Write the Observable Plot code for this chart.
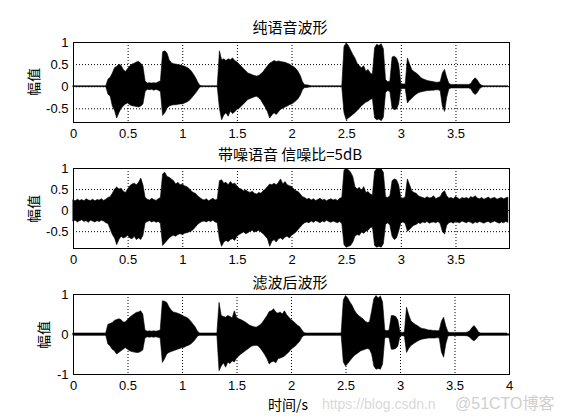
<!DOCTYPE html>
<html><head><meta charset="utf-8">
<script src="https://cdn.jsdelivr.net/npm/d3@7"></script>
<script src="https://cdn.jsdelivr.net/npm/@observablehq/plot@0.6"></script>
<style>
body{margin:0;background:#fff;}
#wrap{position:relative;width:561px;height:420px;overflow:hidden;background:#fff;}
#wrap svg{position:absolute;left:0;top:0;}
.lbl{position:absolute;transform:translate(-50%,-50%);white-space:nowrap;font-family:"Noto Sans CJK SC","Liberation Sans",sans-serif;color:#000;line-height:1;}
.rot{transform:translate(-50%,-50%) rotate(-90deg);}
.wm{position:absolute;white-space:nowrap;font-family:"Liberation Sans","Noto Sans CJK SC",sans-serif;color:#d9d9d9;line-height:1;}
</style></head><body><div id="wrap"></div>
<script>
// sample times (s)
const time = [
0,0.02,0.04,0.06,0.08,0.1,0.12,0.14,0.16,0.18,
0.2,0.22,0.24,0.26,0.28,0.3,0.32,0.34,0.36,0.38,
0.4,0.42,0.44,0.46,0.48,0.5,0.52,0.54,0.56,0.58,
0.6,0.62,0.64,0.66,0.68,0.7,0.72,0.74,0.76,0.78,
0.8,0.82,0.84,0.86,0.88,0.9,0.92,0.94,0.96,0.98,
1,1.02,1.04,1.06,1.08,1.1,1.12,1.14,1.16,1.18,
1.2,1.22,1.24,1.26,1.28,1.3,1.32,1.34,1.36,1.38,
1.4,1.42,1.44,1.46,1.48,1.5,1.52,1.54,1.56,1.58,
1.6,1.62,1.64,1.66,1.68,1.7,1.72,1.74,1.76,1.78,
1.8,1.82,1.84,1.86,1.88,1.9,1.92,1.94,1.96,1.98,
2,2.02,2.04,2.06,2.08,2.1,2.12,2.14,2.16,2.18,
2.2,2.22,2.24,2.26,2.28,2.3,2.32,2.34,2.36,2.38,
2.4,2.42,2.44,2.46,2.48,2.5,2.52,2.54,2.56,2.58,
2.6,2.62,2.64,2.66,2.68,2.7,2.72,2.74,2.76,2.78,
2.8,2.82,2.84,2.86,2.88,2.9,2.92,2.94,2.96,2.98,
3,3.02,3.04,3.06,3.08,3.1,3.12,3.14,3.16,3.18,
3.2,3.22,3.24,3.26,3.28,3.3,3.32,3.34,3.36,3.38,
3.4,3.42,3.44,3.46,3.48,3.5,3.52,3.54,3.56,3.58,
3.6,3.62,3.64,3.66,3.68,3.7,3.72,3.74,3.76,3.78,
3.8,3.82,3.84,3.86,3.88,3.9,3.92,3.94,3.96,3.98];

// clean speech envelope (upper / lower)
const cleanHi = [
0.01,0.01,0.01,0.01,0.01,0.01,0.01,0.01,0.01,0.01,
0.01,0.01,0.01,0.01,0.01,0.01,0.16,0.2,0.3,0.42,
0.45,0.5,0.47,0.38,0.33,0.4,0.46,0.5,0.52,0.55,
0.56,0.52,0.45,0.12,0.07,0.08,0.07,0.08,0.07,0.1,
0.12,0.78,0.8,0.75,0.6,0.53,0.51,0.5,0.49,0.48,
0.47,0.45,0.43,0.4,0.35,0.28,0.2,0.1,0.02,0.01,
0.01,0.01,0.01,0.01,0.01,0.01,0.01,0.8,0.6,0.62,
0.58,0.62,0.6,0.64,0.58,0.55,0.5,0.45,0.4,0.35,
0.3,0.28,0.26,0.24,0.23,0.24,0.28,0.33,0.4,0.46,
0.52,0.55,0.58,0.56,0.57,0.56,0.55,0.54,0.52,0.5,
0.47,0.44,0.4,0.33,0.24,0.1,0.03,0.03,0.02,0.01,
0.01,0.01,0.01,0.01,0.01,0.01,0.01,0.01,0.01,0.01,
0.01,0.01,0.01,0.01,0.9,0.98,0.92,0.82,0.72,0.64,
0.52,0.46,0.42,0.46,0.34,0.38,0.3,0.27,0.87,0.95,
0.92,0.96,0.85,0.15,0.1,0.12,0.66,0.68,0.64,0.5,
0.06,0.05,0.05,0.64,0.5,0.38,0.33,0.3,0.26,0.2,
0.17,0.15,0.13,0.12,0.11,0.1,0.09,0.09,0.1,0.3,
0.38,0.2,0.06,0.04,0.04,0.04,0.04,0.04,0.04,0.04,
0.04,0.04,0.06,0.14,0.19,0.14,0.06,0.02,0.01,0.01,
0.01,0.01,0.01,0.01,0.01,0.01,0.01,0.01,0.01,0.01];
const cleanLo = [
-0.01,-0.01,-0.01,-0.01,-0.01,-0.01,-0.01,-0.01,-0.01,-0.01,
-0.01,-0.01,-0.01,-0.01,-0.01,-0.01,-0.18,-0.22,-0.45,-0.55,
-0.72,-0.6,-0.5,-0.45,-0.4,-0.38,-0.42,-0.44,-0.45,-0.46,
-0.47,-0.45,-0.4,-0.12,-0.07,-0.08,-0.07,-0.09,-0.07,-0.09,
-0.12,-0.66,-0.6,-0.5,-0.45,-0.43,-0.42,-0.42,-0.41,-0.4,
-0.4,-0.38,-0.36,-0.33,-0.28,-0.22,-0.16,-0.09,-0.02,-0.01,
-0.01,-0.01,-0.01,-0.01,-0.01,-0.01,-0.01,-0.5,-0.76,-0.65,
-0.6,-0.68,-0.56,-0.62,-0.58,-0.52,-0.5,-0.45,-0.4,-0.35,
-0.3,-0.28,-0.26,-0.24,-0.23,-0.26,-0.32,-0.4,-0.48,-0.58,
-0.72,-0.65,-0.6,-0.64,-0.58,-0.52,-0.5,-0.47,-0.45,-0.42,
-0.4,-0.37,-0.33,-0.28,-0.2,-0.08,-0.03,-0.03,-0.02,-0.01,
-0.01,-0.01,-0.01,-0.01,-0.01,-0.01,-0.01,-0.01,-0.01,-0.01,
-0.01,-0.01,-0.01,-0.01,-0.6,-0.76,-0.72,-0.68,-0.64,-0.6,
-0.55,-0.5,-0.44,-0.4,-0.36,-0.34,-0.3,-0.28,-0.72,-0.76,
-0.74,-0.78,-0.7,-0.14,-0.1,-0.12,-0.5,-0.53,-0.52,-0.4,
-0.06,-0.05,-0.05,-0.38,-0.32,-0.27,-0.22,-0.18,-0.15,-0.13,
-0.12,-0.11,-0.1,-0.1,-0.09,-0.09,-0.08,-0.08,-0.1,-0.45,
-0.57,-0.25,-0.06,-0.04,-0.04,-0.04,-0.04,-0.04,-0.04,-0.04,
-0.04,-0.04,-0.06,-0.14,-0.19,-0.14,-0.06,-0.02,-0.01,-0.01,
-0.01,-0.01,-0.01,-0.01,-0.01,-0.01,-0.01,-0.01,-0.01,-0.01];

// noisy speech envelope (SNR 5 dB)
const noisyHi = [
0.24,0.22,0.26,0.23,0.25,0.22,0.27,0.24,0.23,0.26,
0.22,0.25,0.24,0.27,0.23,0.26,0.3,0.32,0.4,0.5,
0.55,0.5,0.52,0.45,0.42,0.5,0.58,0.62,0.64,0.6,
0.66,0.76,0.6,0.3,0.26,0.24,0.28,0.25,0.23,0.27,
0.3,0.86,0.9,0.8,0.78,0.74,0.7,0.62,0.66,0.6,
0.62,0.58,0.56,0.52,0.46,0.42,0.4,0.34,0.3,0.26,
0.24,0.27,0.22,0.25,0.28,0.24,0.26,0.7,0.72,0.64,
0.66,0.6,0.68,0.62,0.64,0.58,0.52,0.5,0.46,0.48,
0.44,0.42,0.45,0.4,0.38,0.42,0.4,0.46,0.5,0.56,
0.62,0.6,0.64,0.6,0.66,0.74,0.62,0.68,0.6,0.58,
0.56,0.5,0.46,0.44,0.38,0.32,0.3,0.26,0.28,0.24,
0.27,0.23,0.25,0.28,0.24,0.26,0.22,0.25,0.27,0.24,
0.26,0.23,0.28,0.3,0.95,0.98,0.96,0.9,0.8,0.56,
0.5,0.54,0.46,0.56,0.42,0.44,0.38,0.36,0.92,0.98,
0.97,0.98,0.9,0.32,0.3,0.34,0.7,0.74,0.72,0.6,
0.3,0.28,0.32,0.74,0.6,0.46,0.42,0.4,0.34,0.32,
0.3,0.28,0.32,0.29,0.3,0.34,0.27,0.3,0.32,0.42,
0.46,0.34,0.28,0.3,0.27,0.33,0.29,0.26,0.3,0.28,
0.3,0.27,0.32,0.3,0.34,0.29,0.27,0.3,0.26,0.28,
0.31,0.27,0.29,0.3,0.26,0.28,0.3,0.27,0.29,0.31];
const noisyLo = [
-0.26,-0.24,-0.28,-0.25,-0.23,-0.27,-0.25,-0.29,-0.24,-0.26,
-0.28,-0.25,-0.27,-0.24,-0.26,-0.3,-0.32,-0.45,-0.58,-0.66,
-0.82,-0.7,-0.62,-0.66,-0.64,-0.6,-0.66,-0.68,-0.62,-0.7,
-0.66,-0.7,-0.6,-0.3,-0.27,-0.25,-0.28,-0.26,-0.29,-0.27,
-0.32,-0.84,-0.78,-0.72,-0.66,-0.62,-0.6,-0.62,-0.58,-0.56,
-0.58,-0.55,-0.54,-0.52,-0.5,-0.46,-0.4,-0.34,-0.3,-0.27,
-0.26,-0.28,-0.25,-0.27,-0.24,-0.28,-0.3,-0.7,-0.86,-0.76,
-0.72,-0.75,-0.7,-0.68,-0.72,-0.62,-0.58,-0.55,-0.52,-0.56,
-0.54,-0.5,-0.48,-0.52,-0.5,-0.48,-0.52,-0.56,-0.62,-0.68,
-0.86,-0.74,-0.7,-0.76,-0.68,-0.66,-0.7,-0.64,-0.62,-0.66,
-0.6,-0.56,-0.52,-0.46,-0.4,-0.34,-0.3,-0.28,-0.3,-0.26,
-0.29,-0.25,-0.27,-0.3,-0.26,-0.28,-0.24,-0.27,-0.29,-0.26,
-0.28,-0.3,-0.27,-0.32,-0.82,-0.88,-0.86,-0.84,-0.76,-0.62,
-0.58,-0.6,-0.52,-0.55,-0.5,-0.48,-0.42,-0.4,-0.84,-0.88,
-0.86,-0.88,-0.8,-0.34,-0.3,-0.36,-0.62,-0.7,-0.66,-0.5,
-0.3,-0.28,-0.32,-0.5,-0.46,-0.4,-0.36,-0.34,-0.3,-0.32,
-0.28,-0.3,-0.27,-0.31,-0.29,-0.28,-0.3,-0.27,-0.32,-0.5,
-0.57,-0.36,-0.3,-0.28,-0.31,-0.27,-0.29,-0.3,-0.26,-0.28,
-0.3,-0.27,-0.29,-0.32,-0.28,-0.3,-0.27,-0.29,-0.31,-0.28,
-0.27,-0.3,-0.28,-0.26,-0.29,-0.31,-0.28,-0.3,-0.27,-0.29];

// filtered speech envelope
const filtHi = [
0.025,0.025,0.025,0.025,0.025,0.025,0.025,0.025,0.025,0.025,
0.025,0.025,0.025,0.025,0.025,0.025,0.24,0.26,0.29,0.34,
0.36,0.38,0.36,0.3,0.3,0.36,0.42,0.46,0.5,0.54,
0.55,0.58,0.5,0.1,0.07,0.08,0.07,0.08,0.07,0.08,
0.1,0.83,0.82,0.79,0.68,0.6,0.55,0.54,0.52,0.5,
0.47,0.44,0.42,0.38,0.32,0.25,0.18,0.08,0.025,0.025,
0.025,0.025,0.025,0.025,0.025,0.025,0.025,0.79,0.46,0.44,
0.42,0.46,0.44,0.4,0.58,0.42,0.38,0.36,0.33,0.3,
0.26,0.22,0.2,0.18,0.17,0.2,0.24,0.3,0.38,0.46,
0.56,0.58,0.63,0.55,0.52,0.55,0.5,0.58,0.48,0.42,
0.36,0.32,0.27,0.22,0.18,0.1,0.03,0.025,0.025,0.025,
0.025,0.025,0.025,0.025,0.025,0.025,0.025,0.025,0.025,0.025,
0.025,0.025,0.025,0.025,0.85,0.96,0.9,0.8,0.72,0.6,
0.52,0.46,0.42,0.38,0.32,0.29,0.3,0.58,0.88,0.96,
0.9,0.95,0.8,0.1,0.08,0.1,0.46,0.46,0.44,0.35,
0.05,0.04,0.05,0.67,0.48,0.33,0.28,0.24,0.21,0.17,
0.14,0.13,0.12,0.1,0.1,0.09,0.09,0.08,0.09,0.32,
0.42,0.2,0.05,0.04,0.04,0.04,0.04,0.04,0.04,0.04,
0.04,0.05,0.08,0.16,0.21,0.14,0.05,0.025,0.025,0.025,
0.025,0.025,0.025,0.025,0.025,0.025,0.025,0.025,0.025,0.025];
const filtLo = [
-0.025,-0.025,-0.025,-0.025,-0.025,-0.025,-0.025,-0.025,-0.025,-0.025,
-0.025,-0.025,-0.025,-0.025,-0.025,-0.025,-0.25,-0.3,-0.38,-0.42,
-0.5,-0.46,-0.42,-0.38,-0.34,-0.38,-0.42,-0.44,-0.45,-0.46,
-0.46,-0.44,-0.4,-0.1,-0.07,-0.08,-0.07,-0.08,-0.07,-0.08,
-0.1,-0.71,-0.62,-0.5,-0.46,-0.44,-0.42,-0.4,-0.38,-0.36,
-0.34,-0.33,-0.3,-0.28,-0.25,-0.2,-0.14,-0.06,-0.025,-0.025,
-0.025,-0.025,-0.025,-0.025,-0.025,-0.025,-0.025,-0.92,-0.8,-0.72,
-0.83,-0.7,-0.74,-0.67,-0.7,-0.6,-0.55,-0.5,-0.46,-0.42,
-0.38,-0.34,-0.3,-0.29,-0.28,-0.3,-0.36,-0.44,-0.52,-0.62,
-0.75,-0.7,-0.68,-0.72,-0.62,-0.6,-0.58,-0.55,-0.5,-0.45,
-0.38,-0.34,-0.3,-0.24,-0.18,-0.08,-0.03,-0.025,-0.025,-0.025,
-0.025,-0.025,-0.025,-0.025,-0.025,-0.025,-0.025,-0.025,-0.025,-0.025,
-0.025,-0.025,-0.025,-0.025,-0.7,-0.8,-0.74,-0.67,-0.6,-0.54,
-0.5,-0.46,-0.42,-0.4,-0.38,-0.36,-0.38,-0.5,-0.8,-0.88,
-0.86,-0.88,-0.75,-0.1,-0.08,-0.1,-0.38,-0.38,-0.36,-0.3,
-0.05,-0.04,-0.05,-0.46,-0.36,-0.29,-0.25,-0.21,-0.18,-0.15,
-0.13,-0.12,-0.11,-0.1,-0.1,-0.1,-0.1,-0.09,-0.1,-0.45,
-0.58,-0.25,-0.05,-0.04,-0.04,-0.04,-0.04,-0.04,-0.04,-0.04,
-0.04,-0.05,-0.08,-0.14,-0.17,-0.12,-0.05,-0.025,-0.025,-0.025,
-0.025,-0.025,-0.025,-0.025,-0.025,-0.025,-0.025,-0.025,-0.025,-0.025];

// ticks and labels
const xTicksShort = [0,0.5,1,1.5,2,2.5,3,3.5];
const xTicksFull = [0,0.5,1,1.5,2,2.5,3,3.5,4];
const yTicksHalf = [-0.5,0,0.5,1];
const yTicksUnit = [-1,0,1];
const titles = ["纯语音波形","带噪语音 信噪比=5dB","滤波后波形"];
const yLabel = "幅值";
const xLabel = "时间/s";

const wrap = document.getElementById("wrap");
const rows = (hi, lo) => time.map((t, i) => ({t, hi: hi[i], lo: lo[i]}));
const fmt = d => String(d);

function panel({data, xDomain, xTicks, yDomain, yTicks, top, bottom, baseline}) {
  const dots = {stroke: "#000", strokeOpacity: 1, strokeWidth: 1, strokeDasharray: "1,2"};
  return Plot.plot({
    width: 561, height: 420,
    marginTop: top, marginBottom: 420 - bottom, marginLeft: 73, marginRight: 52,
    style: {background: "transparent", fontSize: "13px", fontFamily: "'Liberation Sans', Arial, sans-serif", color: "#000"},
    x: {domain: xDomain},
    y: {domain: yDomain},
    marks: [
      Plot.gridX(xTicks, dots),
      Plot.gridY(yTicks, dots),
      baseline ? Plot.ruleY([0], {stroke: "#000", strokeWidth: 2}) : null,
      Plot.areaY(data, {x: "t", y1: "lo", y2: "hi", fill: "#000", stroke: "#000", strokeWidth: 0.6}),
      Plot.frame({stroke: "#000", strokeWidth: 1}),
      Plot.axisX(xTicks, {tickFormat: fmt, tickSize: 0, tickPadding: 6, label: null, fontSize: 13}),
      Plot.axisY(yTicks, {tickFormat: fmt, tickSize: 0, tickPadding: 5, label: null, fontSize: 13})
    ]
  });
}

wrap.appendChild(panel({data: rows(cleanHi, cleanLo), xDomain: [0, 3.99], xTicks: xTicksShort, yDomain: [-0.81, 1], yTicks: yTicksHalf, top: 42, bottom: 122}));
wrap.appendChild(panel({data: rows(noisyHi, noisyLo), xDomain: [0, 3.99], xTicks: xTicksShort, yDomain: [-0.9, 1], yTicks: yTicksHalf, top: 168, bottom: 248}));
wrap.appendChild(panel({data: rows(filtHi, filtLo), xDomain: [0, 4], xTicks: xTicksFull, yDomain: [-1, 1], yTicks: yTicksUnit, top: 294, bottom: 374, baseline: true}));

function label(text, cx, cy, size, cls) {
  const d = document.createElement("div");
  d.className = "lbl" + (cls ? " " + cls : "");
  d.textContent = text;
  d.style.left = cx + "px";
  d.style.top = cy + "px";
  d.style.fontSize = size + "px";
  wrap.appendChild(d);
}
label(titles[0], 290, 26, 15);
label(titles[1], 290, 153, 15);
label(titles[2], 290, 281, 15);
label(xLabel, 288, 404, 14);
label(yLabel, 33, 82, 14, "rot");
label(yLabel, 33, 209, 14, "rot");
label(yLabel, 43, 335, 14, "rot");

const wm1 = document.createElement("div");
wm1.className = "wm"; wm1.textContent = "https://blog.csdn.n";
wm1.style.left = "322px"; wm1.style.top = "397px"; wm1.style.fontSize = "14px";
wrap.appendChild(wm1);
const wm2 = document.createElement("div");
wm2.className = "wm"; wm2.textContent = "@51CTO博客";
wm2.style.left = "455px"; wm2.style.top = "396px"; wm2.style.fontSize = "16px"; wm2.style.color = "#cfcfcf";
wrap.appendChild(wm2);
</script></body></html>
